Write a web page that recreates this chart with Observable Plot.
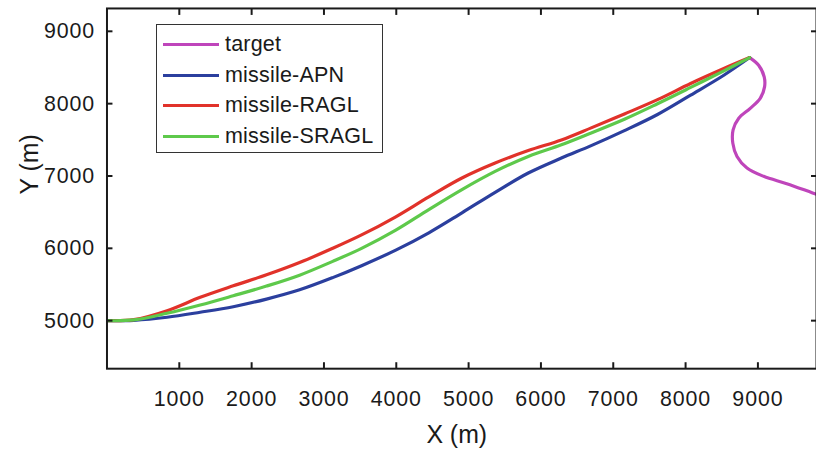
<!DOCTYPE html>
<html><head><meta charset="utf-8">
<script src="https://cdn.jsdelivr.net/npm/d3@7"></script>
<script src="https://cdn.jsdelivr.net/npm/@observablehq/plot@0.6"></script>
<style>
body{margin:0;overflow:hidden;background:#fff;font-family:"Liberation Sans",Arial,sans-serif}
#wrap{position:relative;width:816px;height:450px;overflow:hidden}
#wrap svg{position:absolute;left:0;top:0}
#wrap svg [aria-label$="tick label"] text{letter-spacing:0.9px}
#legend{position:absolute;left:156px;top:24px;width:227px;height:129px;border:1.5px solid #333;background:#fff;box-sizing:border-box}
.row{position:absolute;left:0;height:30px;display:flex;align-items:center}
.sw{width:56px;height:3px;margin-left:6px;margin-right:6px}
.lab{font-size:21.5px;color:#1a1a1a;letter-spacing:0.2px}
</style>
</head><body><div id="wrap"><div id="chart"></div></div>
<script>
// Missile trajectories share a common X sampling (m)
const missileX = [0, 372, 831, 1289, 1746, 2206, 2663, 3121, 3520, 3993, 4450, 4908, 5367, 5825, 6283, 6695, 7154, 7612, 8070, 8529, 8886];
const apnY   = [5000, 5005, 5047, 5116, 5193, 5298, 5426, 5595, 5760, 5975, 6215, 6491, 6774, 7041, 7248, 7420, 7627, 7850, 8118, 8393, 8637];
const raglY  = [5000, 5014, 5138, 5322, 5481, 5633, 5803, 6000, 6185, 6436, 6711, 6972, 7179, 7352, 7499, 7665, 7857, 8055, 8279, 8486, 8637];
const sraglY = [5000, 5010, 5102, 5216, 5344, 5478, 5629, 5820, 6000, 6252, 6536, 6812, 7063, 7270, 7431, 7595, 7784, 7999, 8224, 8453, 8637];
// Target trajectory
const targetX = [8886, 9010, 9087, 9092, 9032, 8894, 8735, 8657, 8653, 8711, 8849, 9079, 9399, 9756, 10000];
const targetY = [8637, 8531, 8370, 8232, 8073, 7935, 7798, 7637, 7454, 7270, 7110, 6995, 6894, 6766, 6679];

const seriesNames = ["target", "missile-APN", "missile-RAGL", "missile-SRAGL"];
const seriesColors = ["#bf45bb", "#2b3f9e", "#e1322a", "#5ec94b"];
const xTicks = [1000, 2000, 3000, 4000, 5000, 6000, 7000, 8000, 9000];
const yTicks = [5000, 6000, 7000, 8000, 9000];
const xLabel = "X (m)";
const yLabel = "Y (m)";

const rows = [];
targetX.forEach((x, i) => rows.push({s: seriesNames[0], x, y: targetY[i], i}));
missileX.forEach((x, i) => rows.push({s: seriesNames[1], x, y: apnY[i], i}));
missileX.forEach((x, i) => rows.push({s: seriesNames[2], x, y: raglY[i], i}));
missileX.forEach((x, i) => rows.push({s: seriesNames[3], x, y: sraglY[i], i}));

const axisColor = "#1a1a1a";
const fmt = d => String(d);
const chart = Plot.plot({
  width: 820, height: 450,
  marginLeft: 107, marginRight: 0, marginTop: 8, marginBottom: 80,
  style: {fontFamily: "Liberation Sans, Arial, sans-serif", background: "transparent"},
  x: {domain: [0, 9810]},
  y: {domain: [4336, 9316]},
  color: {domain: seriesNames, range: seriesColors},
  marks: [
    Plot.line(rows, {x: "x", y: "y", z: "s", stroke: "s", strokeWidth: 3.2, curve: "catmull-rom", clip: true, sort: null}),
    Plot.frame({stroke: axisColor, strokeWidth: 2}),
    Plot.axisX(xTicks, {anchor: "bottom", tickSize: -6, tickPadding: 28, fontSize: 21.5, label: null, tickFormat: fmt, stroke: axisColor, fill: axisColor, strokeWidth: 2}),
    Plot.axisX(xTicks, {anchor: "top", tickSize: -6, tickFormat: () => "", label: null, stroke: axisColor, strokeWidth: 2}),
    Plot.axisY(yTicks, {anchor: "left", tickSize: -6, tickPadding: 18, fontSize: 21.5, label: null, tickFormat: fmt, stroke: axisColor, fill: axisColor, strokeWidth: 2}),
    Plot.axisY(yTicks, {anchor: "right", tickSize: -6, tickFormat: () => "", label: null, stroke: axisColor, strokeWidth: 2}),
    Plot.text([xLabel], {frameAnchor: "bottom", dx: -5, dy: 67, fontSize: 25, fill: axisColor, lineAnchor: "middle"}),
    Plot.text([yLabel], {frameAnchor: "left", dx: -77, dy: 6, rotate: -90, fontSize: 25, fill: axisColor, lineAnchor: "middle"})
  ]
});
document.getElementById("chart").appendChild(chart);

const legend = document.createElement("div");
legend.id = "legend";
seriesNames.forEach((name, i) => {
  const r = document.createElement("div");
  r.className = "row";
  r.style.top = (4.5 + i * 30.6) + "px";
  r.innerHTML = `<div class="sw" style="background:${seriesColors[i]}"></div><span class="lab">${name}</span>`;
  legend.appendChild(r);
});
document.getElementById("wrap").appendChild(legend);
</script>
</body></html>
